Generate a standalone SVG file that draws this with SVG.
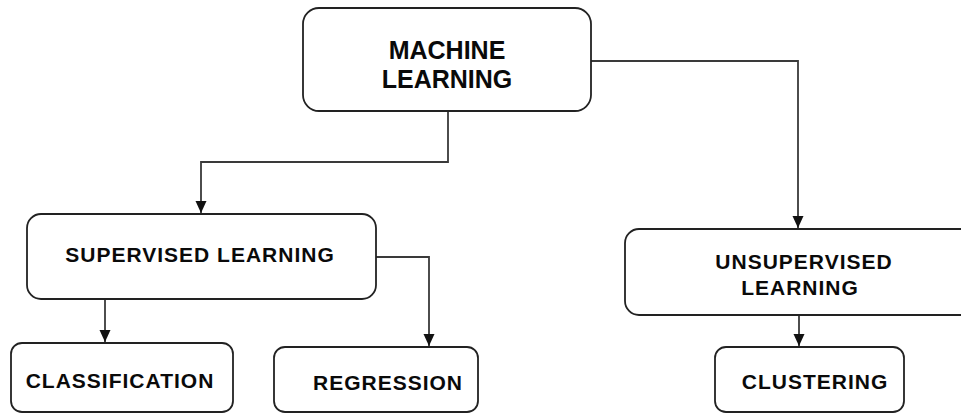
<svg xmlns="http://www.w3.org/2000/svg" width="961" height="413" viewBox="0 0 961 413">
  <style>
    .box { fill: #ffffff; stroke: #222222; stroke-width: 1.8; }
    .wire { fill: none; stroke: #3a3a3a; stroke-width: 1.8; }
    .lbl { font-family: "Liberation Sans", Arial, sans-serif; font-weight: bold; fill: #0a0a0a; text-anchor: middle; }
    .big { font-size: 25px; }
    .mid { font-size: 21px; letter-spacing: 1px; }
  </style>
  <defs>
    <marker id="arrow" viewBox="0 0 12 12" refX="12" refY="6" markerWidth="12" markerHeight="12" markerUnits="userSpaceOnUse" orient="auto">
      <path d="M0,0.5 L12,6 L0,11.5 Z" fill="#111111"/>
    </marker>
  </defs>
  <rect width="961" height="413" fill="#ffffff"/>

  <g id="connectors">
    <path class="wire" d="M448,111 V162 H201 V213" marker-end="url(#arrow)"/>
    <path class="wire" d="M591,61 H798 V228" marker-end="url(#arrow)"/>
    <path class="wire" d="M105,299 V342" marker-end="url(#arrow)"/>
    <path class="wire" d="M376,257 H429 V346" marker-end="url(#arrow)"/>
    <path class="wire" d="M799,315 V346" marker-end="url(#arrow)"/>
  </g>

  <g id="machine-learning">
    <rect class="box" x="303" y="8" width="288" height="103" rx="16"/>
    <text class="lbl big" x="447" y="59">MACHINE</text>
    <text class="lbl big" x="447" y="88">LEARNING</text>
  </g>

  <g id="supervised-learning">
    <rect class="box" x="27" y="214" width="349" height="85" rx="14"/>
    <text class="lbl mid" x="200" y="262">SUPERVISED LEARNING</text>
  </g>

  <g id="unsupervised-learning">
    <rect class="box" x="625" y="229" width="356" height="86" rx="14"/>
    <text class="lbl mid" x="804" y="269">UNSUPERVISED</text>
    <text class="lbl mid" x="800" y="295">LEARNING</text>
  </g>

  <g id="classification">
    <rect class="box" x="11" y="343" width="222" height="69" rx="11"/>
    <text class="lbl mid" x="120" y="388">CLASSIFICATION</text>
  </g>

  <g id="regression">
    <rect class="box" x="274" y="347" width="204" height="65" rx="11"/>
    <text class="lbl mid" x="388" y="390">REGRESSION</text>
  </g>

  <g id="clustering">
    <rect class="box" x="715" y="347" width="189" height="65" rx="11"/>
    <text class="lbl mid" x="815" y="389">CLUSTERING</text>
  </g>
</svg>
